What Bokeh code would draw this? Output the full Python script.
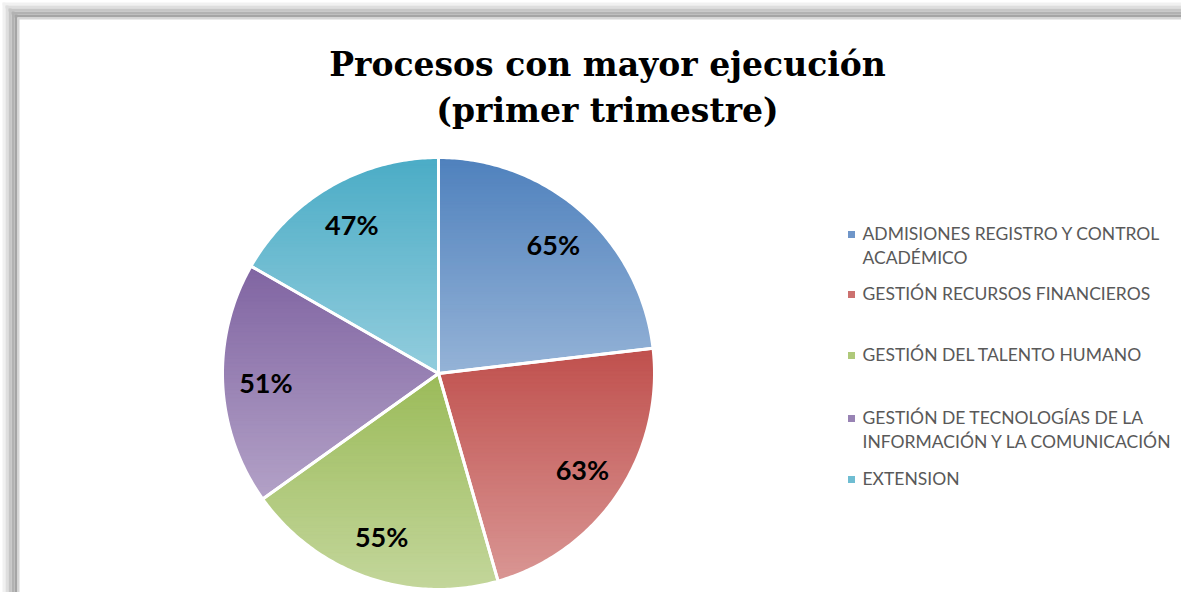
import math
from bokeh.plotting import figure
from bokeh.models import Range1d
from bokeh.core.properties import value
from bokeh.embed import file_html
from bokeh.resources import INLINE

# ---------------- data ----------------
categories = [
    "ADMISIONES REGISTRO Y CONTROL ACADÉMICO",
    "GESTIÓN RECURSOS FINANCIEROS",
    "GESTIÓN DEL TALENTO HUMANO",
    "GESTIÓN DE TECNOLOGÍAS DE LA INFORMACIÓN Y LA COMUNICACIÓN",
    "EXTENSION",
]
legend_lines = [
    ["ADMISIONES REGISTRO Y CONTROL", "ACADÉMICO"],
    ["GESTIÓN RECURSOS FINANCIEROS"],
    ["GESTIÓN DEL TALENTO HUMANO"],
    ["GESTIÓN DE TECNOLOGÍAS DE LA", "INFORMACIÓN Y LA COMUNICACIÓN"],
    ["EXTENSION"],
]
values = [65, 63, 55, 51, 47]
labels = ["65%", "63%", "55%", "51%", "47%"]
title_lines = ["Procesos con mayor ejecución", "(primer trimestre)"]

# gradient colours (top -> bottom of each slice)
top_colors = ["#4F81BD", "#C0504D", "#9BBB59", "#8064A2", "#4BACC6"]
bottom_colors = ["#95B3D7", "#D99694", "#C3D69B", "#B3A2C7", "#93CDDD"]
legend_colors = ["#6F96C9", "#CC716F", "#AFC97A", "#9883B4", "#6FBDD2"]

# ---------------- layout ----------------
W, H = 1181, 592
CX, CY, R = 438, 373, 216

p = figure(width=W, height=H, output_backend="svg", toolbar_location=None,
           x_range=Range1d(0, W), y_range=Range1d(H, 0),
           min_border=0, background_fill_color="white", border_fill_color="white")
p.axis.visible = False
p.grid.visible = False
p.outline_line_color = None

# frame shadow (left and top)
shadow = [(2, 5, "#f1f1f1"), (5, 8, "#dedede"), (8, 11, "#c6c6c6"), (11, 14, "#b2b2b2"),
          (14, 17, "#a5a5a5"), (17, 19, "#d6d6d6")]
for a, b, c in shadow:
    p.quad(left=a, right=b, top=a, bottom=H, fill_color=c, line_color=None)
    p.quad(left=a, right=W, top=a, bottom=b, fill_color=c, line_color=None)


def hex2rgb(h):
    h = h.lstrip("#")
    return tuple(int(h[i:i + 2], 16) for i in (0, 2, 4))


def mix(c1, c2, f):
    a, b = hex2rgb(c1), hex2rgb(c2)
    return "#%02x%02x%02x" % tuple(int(round(a[i] + (b[i] - a[i]) * f)) for i in range(3))


def clip_below(pts, t):
    """keep part of polygon with y >= t (screen y grows downward)"""
    out = []
    n = len(pts)
    for i in range(n):
        x1, y1 = pts[i]
        x2, y2 = pts[(i + 1) % n]
        in1, in2 = y1 >= t, y2 >= t
        if in1:
            out.append((x1, y1))
        if in1 != in2:
            f = (t - y1) / (y2 - y1)
            out.append((x1 + (x2 - x1) * f, t))
    return out


total = sum(values)
cum = 0.0
outlines_x, outlines_y = [], []
lab_x, lab_y = [], []
for i, v in enumerate(values):
    a0 = cum / total * 2 * math.pi
    a1 = (cum + v) / total * 2 * math.pi
    cum += v
    n = max(8, int((a1 - a0) * 80))
    pts = [(CX, CY)] + [(CX + R * math.sin(a0 + (a1 - a0) * k / n),
                         CY - R * math.cos(a0 + (a1 - a0) * k / n)) for k in range(n + 1)]
    ys = [q[1] for q in pts]
    ymin, ymax = min(ys), max(ys)
    N = 60
    xs_l, ys_l, cols = [], [], []
    for k in range(N):
        t = ymin + (ymax - ymin) * k / N
        poly = clip_below(pts, t)
        if len(poly) < 3:
            continue
        xs_l.append([q[0] for q in poly])
        ys_l.append([q[1] for q in poly])
        cols.append(mix(top_colors[i], bottom_colors[i], (k + 0.5) / N))
    p.patches(xs=xs_l, ys=ys_l, fill_color=cols, line_color=cols, line_width=0.6)
    outlines_x.append([q[0] for q in pts] + [pts[0][0]])
    outlines_y.append([q[1] for q in pts] + [pts[0][1]])
    am = (a0 + a1) / 2
    lab_x.append(CX + 0.8 * R * math.sin(am))
    lab_y.append(CY - 0.8 * R * math.cos(am))

p.multi_line(xs=outlines_x, ys=outlines_y, line_color="white", line_width=3, line_join="round")

p.text(x=lab_x, y=lab_y, text=labels, text_font=value("Lato"), text_font_style="bold",
       text_font_size="27px", text_color="black", text_align="center", text_baseline="middle")

# title
p.text(x=[607, 607], y=[64, 110], text=title_lines, text_font=value("DejaVu Serif"),
       text_font_style="bold", text_font_size="33px", text_color="black",
       text_align="center", text_baseline="middle")

# legend
item_y = [233, 293, 354, 417, 478]
line_gap = 24
tx, ty, tt = [], [], []
for yy, lines in zip(item_y, legend_lines):
    for j, s in enumerate(lines):
        tx.append(862)
        ty.append(yy + j * line_gap)
        tt.append(s)
p.scatter(x=[851] * len(item_y), y=[yy + 1 for yy in item_y], marker="square", size=7,
          fill_color=legend_colors, line_color=None)
p.text(x=tx, y=ty, text=tt, text_font=value("Lato"), text_font_size="17.5px",
       text_color="#595959", text_align="left", text_baseline="middle")

open("out.html", "w").write(file_html(p, INLINE))
